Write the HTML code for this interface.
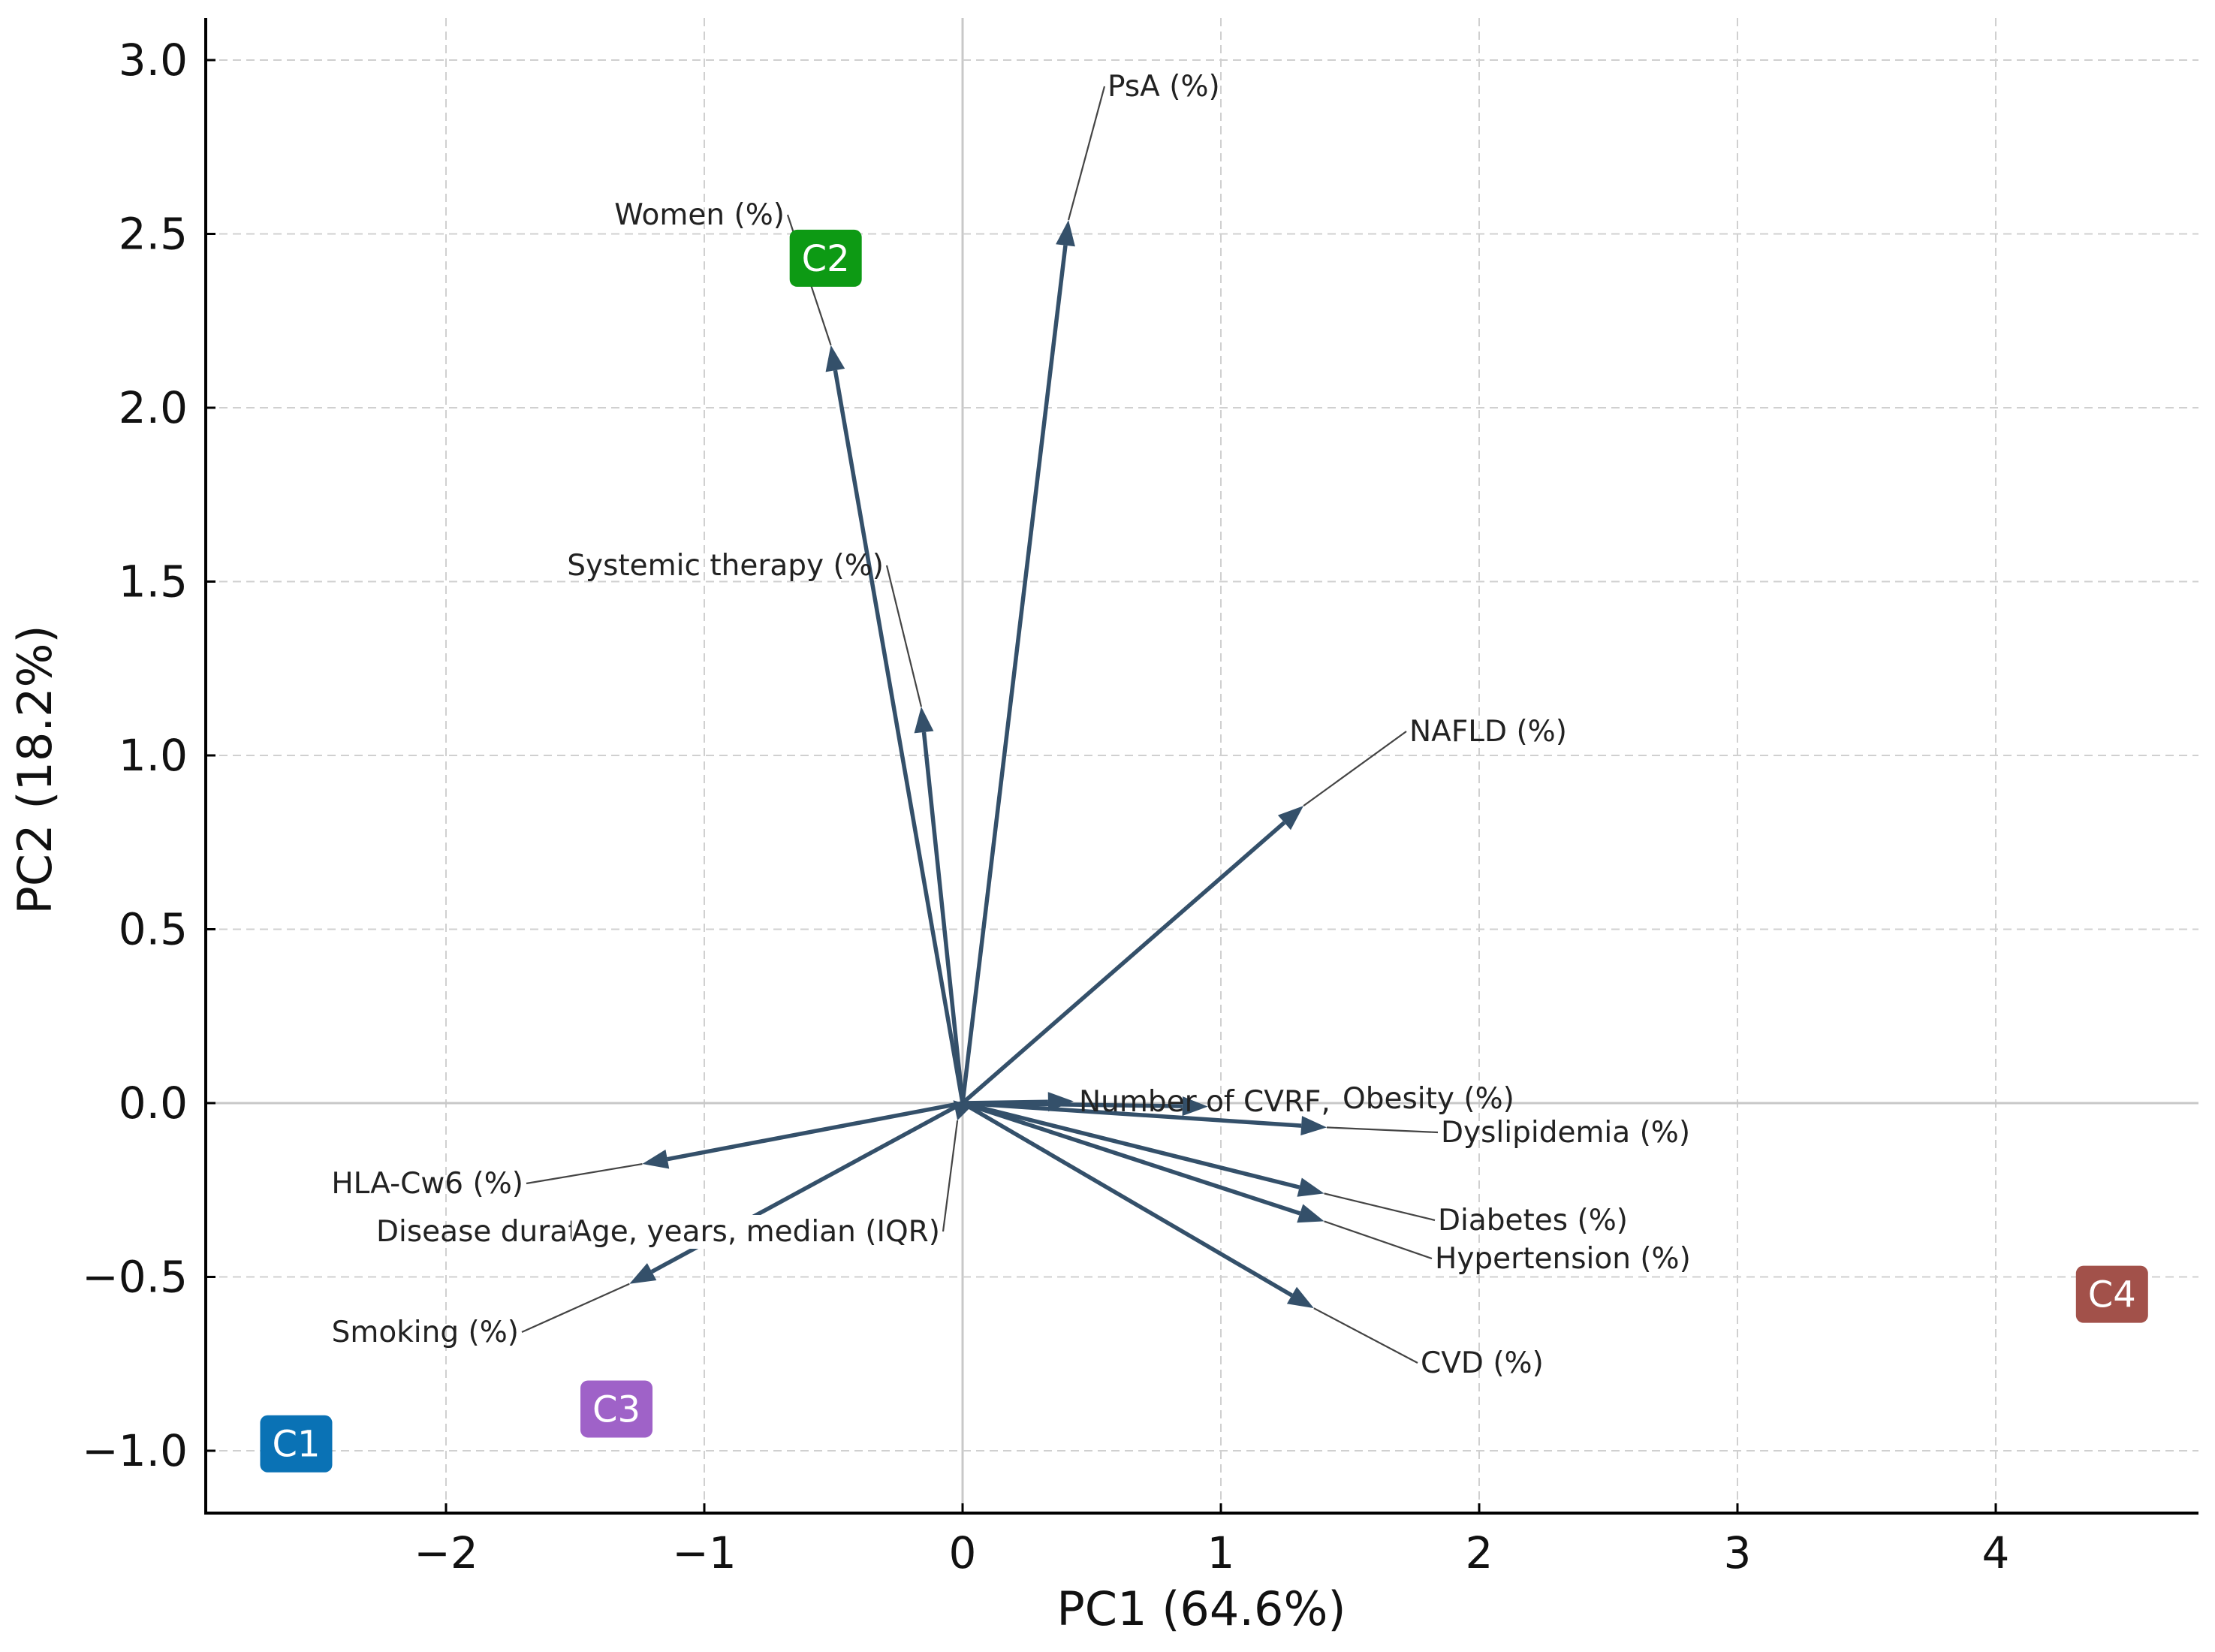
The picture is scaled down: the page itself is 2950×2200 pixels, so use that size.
<!DOCTYPE html>
<html><head><meta charset="utf-8"><style>
html,body{margin:0;padding:0;background:#fff}
svg{display:block}
text{font-family:"DejaVu Sans","Liberation Sans",sans-serif}
</style></head><body>
<svg id="chart" width="2950" height="2200" viewBox="0 0 2950 2200" xmlns="http://www.w3.org/2000/svg">
<g id="grid"></g>
<g id="arrows"></g>
<g id="labels"></g>
<g id="clusters"></g>
<g id="axes"></g>
</svg>
<script>
// ---- data ----
const xTicks = [-2, -1, 0, 1, 2, 3, 4];
const yTicks = [-1.0, -0.5, 0.0, 0.5, 1.0, 1.5, 2.0, 2.5, 3.0];
const varNames = ["PsA (%)", "Women (%)", "Systemic therapy (%)", "NAFLD (%)", "Number of CVRF,", "Obesity (%)", "Dyslipidemia (%)", "Diabetes (%)", "Hypertension (%)", "CVD (%)", "HLA-Cw6 (%)", "Smoking (%)", "Age, years, median (IQR)"];
const loadX = [0.41, -0.51, -0.16, 1.32, 0.43, 0.95, 1.41, 1.40, 1.40, 1.36, -1.24, -1.29, -0.02];
const loadY = [2.54, 2.18, 1.14, 0.855, 0.005, -0.01, -0.07, -0.26, -0.34, -0.59, -0.175, -0.52, -0.05];
const clusterNames = ["C1", "C2", "C3", "C4"];
const clusterX = [-2.58, -0.53, -1.34, 4.45];
const clusterY = [-0.98, 2.43, -0.88, -0.55];
const clusterColors = ["#0a72b5", "#0d9a14", "#9f62c8", "#a2514a"];
// label layout (pixels) — presentation only
const labelPos = [[1475,115,"start"],[1045,286,"end"],[1177,753,"end"],[1877,974,"start"],[1437,1467,"start"],[1788,1463,"start"],[1919,1508,"start"],[1915,1625,"start"],[1911,1676,"start"],[1892,1815,"start"],[697,1576,"end"],[691,1774,"end"],[1252,1640,"end"]];

const X = v => 1282 + 344 * v;
const Y = v => 1469 - 463 * v;
const NS = "http://www.w3.org/2000/svg";
function mk(tag, attrs, parent) {
  const e = document.createElementNS(NS, tag);
  for (const k in attrs) e.setAttribute(k, attrs[k]);
  parent.appendChild(e);
  return e;
}
const grid = document.getElementById("grid");
const axes = document.getElementById("axes");
const arrows = document.getElementById("arrows");
const labels = document.getElementById("labels");
const clusters = document.getElementById("clusters");
const L = 274, R = 2928, T = 24, B = 2015;

xTicks.forEach(t => {
  const g = mk("line", {x1: X(t), x2: X(t), y1: T, y2: B, stroke: t === 0 ? "#c8c8c8" : "#d0d0d0", "stroke-width": t === 0 ? 3 : 2, "stroke-dasharray": t === 0 ? "none" : "11 7"}, grid);
  
  
  const tk = mk("line", {x1: X(t), x2: X(t), y1: B, y2: B - 13, stroke: "#000", "stroke-width": 3}, axes);
  
  
  const tx = mk("text", {x: X(t), y: 2088, "text-anchor": "middle", "font-size": 58, fill: "#111"}, axes);
  tx.textContent = (t < 0 ? "\u2212" + Math.abs(t) : String(t));
  
  
});
yTicks.forEach(t => {
  const g = mk("line", {x1: L, x2: R, y1: Y(t), y2: Y(t), stroke: t === 0 ? "#c8c8c8" : "#d0d0d0", "stroke-width": t === 0 ? 3 : 2, "stroke-dasharray": t === 0 ? "none" : "11 7"}, grid);
  
  
  const tk = mk("line", {x1: L, x2: L + 13, y1: Y(t), y2: Y(t), stroke: "#000", "stroke-width": 3}, axes);
  
  
  const tx = mk("text", {x: 250, y: Y(t) + 20, "text-anchor": "end", "font-size": 58, fill: "#111"}, axes);
  tx.textContent = (t < 0 ? "\u2212" + Math.abs(t).toFixed(1) : t.toFixed(1));
  
  
});
const sp1 = mk("line", {x1: L, x2: L, y1: T, y2: B + 2, stroke: "#000", "stroke-width": 4}, axes);


const sp2 = mk("line", {x1: L - 2, x2: R, y1: B, y2: B, stroke: "#000", "stroke-width": 4}, axes);


const xt = mk("text", {x: 1600, y: 2164, "text-anchor": "middle", "font-size": 62, fill: "#111"}, axes);
xt.textContent = "PC1 (64.6%)";


const yt = mk("text", {x: 68, y: 1025, "text-anchor": "middle", "font-size": 62, fill: "#111", transform: "rotate(-90 68 1025)"}, axes);
yt.textContent = "PC2 (18.2%)";



// arrows
const col = "#34506a";
loadX.forEach((vx, i) => {
  const x0 = X(0), y0 = Y(0), x1 = X(vx), y1 = Y(loadY[i]);
  const dx = x1 - x0, dy = y1 - y0, len = Math.hypot(dx, dy) || 1;
  const ux = dx / len, uy = dy / len, hl = Math.min(34, len), hw = 13;
  const bx = x1 - ux * hl, by = y1 - uy * hl;
  const ln = mk("line", {x1: x0, y1: y0, x2: bx, y2: by, stroke: col, "stroke-width": 5.5}, arrows);
  
  
  const hd = mk("polygon", {points: `${x1},${y1} ${bx - uy * hw},${by + ux * hw} ${bx + uy * hw},${by - ux * hw}`, fill: col}, arrows);
  
  
});
// labels with leader lines
varNames.forEach((name, i) => {
  const p = labelPos[i];
  const lx = p[0] + (p[2] === "end" ? 4 : -4);
  if (i !== 4 && i !== 5) {
    const ll = mk("line", {x1: lx, y1: p[1], x2: X(loadX[i]), y2: Y(loadY[i]), stroke: "#444", "stroke-width": 2.2}, labels);
    
    
  }
});
const dd = mk("text", {x: 501, y: 1653, "text-anchor": "start", "font-size": 39, fill: "#222"}, labels);
dd.textContent = "Disease duration, years, median (IQR)";


varNames.forEach((name, i) => {
  const p = labelPos[i];
  const t = mk("text", {x: p[0], y: p[1] + 13, "text-anchor": p[2], "font-size": 39, fill: "#222"}, labels);
  t.textContent = name;
  
  
  if (i === 12) {
    const bb = t.getBBox();
    const bg = mk("rect", {x: bb.x, y: bb.y, width: bb.width, height: bb.height, fill: "#fff"}, labels);
    
    
    labels.appendChild(t);
  }
});
// clusters
clusterNames.forEach((n, i) => {
  const cx = X(clusterX[i]), cy = Y(clusterY[i]);
  const r = mk("rect", {x: cx - 48, y: cy - 38, width: 96, height: 76, rx: 10, fill: clusterColors[i]}, clusters);
  
  
  const t = mk("text", {x: cx, y: cy + 17, "text-anchor": "middle", "font-size": 48, fill: "#fff"}, clusters);
  t.textContent = n;
  
  
});
</script>
</body></html>
